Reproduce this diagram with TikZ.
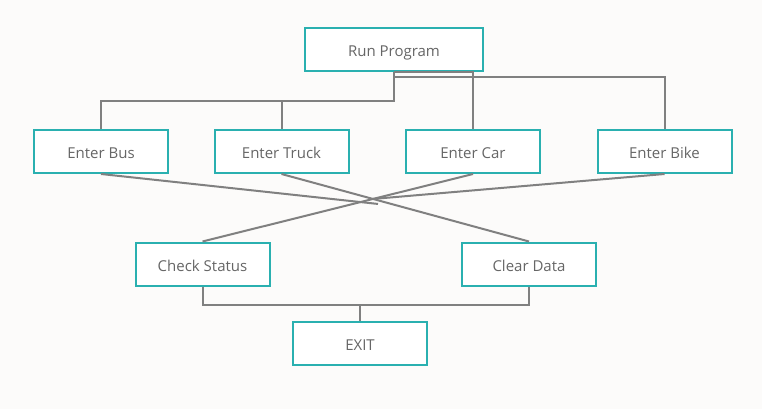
\documentclass[tikz,border=0pt]{standalone}
\usepackage{fontspec}
\setmainfont{Open Sans}
\usetikzlibrary{calc}
\definecolor{bgcol}{HTML}{FCFBFA}
\definecolor{boxteal}{HTML}{2AB0B0}
\definecolor{linegray}{HTML}{808080}
\definecolor{txtgray}{HTML}{666666}
\begin{document}
\begin{tikzpicture}[x=1pt,y=-1pt,
  box/.style={draw=boxteal, line width=2pt, fill=white, minimum width=134pt, minimum height=43pt, inner sep=0pt, text height=14pt, text depth=0pt, text=txtgray, font=\fontsize{15}{17}\selectfont},
  conn/.style={draw=linegray, line width=2pt}]
\fill[bgcol] (0,0) rectangle (762,409);
\useasboundingbox (0,0) rectangle (762,409);
\node[box, minimum width=178pt] (run) at (394,49.5) {Run Program};
\node[box] (bus) at (101,151.5) {Enter Bus};
\node[box] (truck) at (281.5,151.5) {Enter Truck};
\node[box] (car) at (473,151.5) {Enter Car};
\node[box] (bike) at (664.5,151.5) {Enter Bike};
\node[box] (check) at (202.5,264) {Check Status};
\node[box] (clear) at (529,264) {Clear Data};
\node[box] (exit) at (360,343) {EXIT};
% top connectors
\draw[conn] (run.south) -- ++(0,29) coordinate (j1) -| (bus.north);
\draw[conn] (truck.north |- j1) -- (truck.north);
\draw[conn] (run.south) -| (car.north);
\draw[conn] (run.south) -- ++(0,5) -| (bike.north);
% crossing connectors
\draw[conn] (truck.south) -- (clear.north);
\draw[conn] (car.south) -- (check.north);
\coordinate (xc) at (intersection of truck.south--clear.north and car.south--check.north);
\draw[conn] (bus.south) -- ($(xc)+(5,5)$);
\draw[conn] (bike.south) -- (xc);
% bottom connectors
\draw[conn] (check.south) -- ++(0,18) coordinate (jb) -| (clear.south);
\draw[conn] (exit.north) -- (exit.north |- jb);
\end{tikzpicture}
\end{document}
